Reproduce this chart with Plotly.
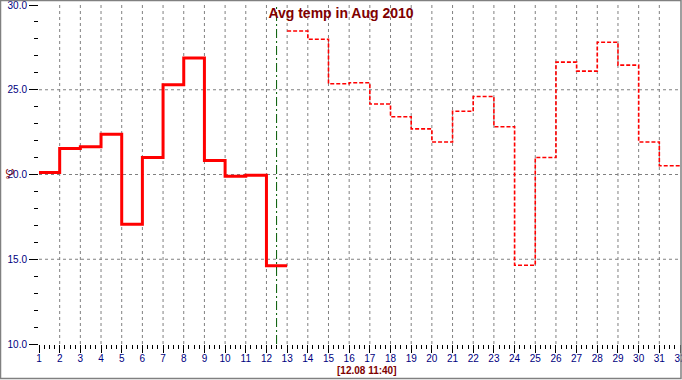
import plotly.graph_objects as go

# ---- data ----
days = list(range(1, 32))
temps = [20.12, 21.53, 21.63, 22.37, 17.06, 21.00, 25.29, 26.88, 20.82, 19.90,
         19.96, 14.61, 28.47, 27.98, 25.35, 25.41, 24.16, 23.41, 22.69, 21.92,
         23.73, 24.60, 22.82, 14.65, 21.00, 26.63, 26.10, 27.80, 26.45, 21.92,
         20.52]
n_actual = 12          # days 1..12 measured (solid), rest dashed
now_x = 12.49          # 12.08 11:40
now_label = "[12.08 11:40]"
title_text = "Avg temp in Aug 2010"
y_title = "°C"
x_ticks = list(range(1, 33))
y_ticks = [10, 15, 20, 25, 30]
x_grid = list(range(2, 32))
y_grid = [15, 20, 25]

# step data (each day spans d..d+1)
xa = days[:n_actual] + [days[n_actual - 1] + 1]
ya = temps[:n_actual] + [temps[n_actual - 1]]
xf = days[n_actual:] + [days[-1] + 1]
yf = temps[n_actual:] + [temps[-1]]

W, H = 682, 380
ML, MR, MT, MB = 39, 2, 5, 36
pw, ph = W - ML - MR, H - MT - MB

fig = go.Figure()
fig.add_trace(go.Scatter(x=xa, y=ya, mode="lines", line_shape="hv",
                         line=dict(color="#ff0000", width=3), hoverinfo="skip",
                         cliponaxis=False))
fig.add_trace(go.Scatter(x=xf, y=yf, mode="lines", line_shape="hv",
                         line=dict(color="#ff0000", width=1.6, dash="4px,2px"),
                         hoverinfo="skip", cliponaxis=False))

shapes = []
for gx in x_grid:
    shapes.append(dict(type="line", xref="x", yref="paper", x0=gx, x1=gx, y0=0, y1=1,
                       line=dict(color="#808080", width=1, dash="3px,3px"), layer="below"))
for gy in y_grid:
    shapes.append(dict(type="line", xref="paper", yref="y", x0=0, x1=1, y0=gy, y1=gy,
                       line=dict(color="#808080", width=1, dash="3px,3px"), layer="below"))
# now marker
shapes.append(dict(type="line", xref="x", yref="paper", x0=now_x, x1=now_x, y0=0, y1=1,
                   line=dict(color="#005a00", width=1, dash="9px,3px,2px,3px")))
# figure frame
shapes.append(dict(type="rect", xref="paper", yref="paper",
                   x0=(0.5 - ML) / pw, x1=(681 - ML) / pw,
                   y0=(H - MB - 378.5) / ph, y1=(H - MB - 0.5) / ph,
                   line=dict(color="#808080", width=1.5), fillcolor="rgba(0,0,0,0)"))

tickfont = dict(family="Liberation Sans, Arial, sans-serif", size=10, color="#000080")

fig.update_layout(
    width=W, height=H,
    margin=dict(l=ML, r=MR, t=MT, b=MB, autoexpand=False),
    paper_bgcolor="white", plot_bgcolor="white",
    showlegend=False,
    shapes=shapes,
    title=dict(text="<b>" + title_text + "</b>", x=0.5, xref="container", xanchor="center",
               y=1 - 13 / H, yref="container", yanchor="middle",
               font=dict(family="Liberation Sans, Arial, sans-serif", size=14, color="#800000")),
    xaxis=dict(range=[1, 32], tickvals=x_ticks, ticktext=[str(v) for v in x_ticks],
               showgrid=False, zeroline=False, showline=False, automargin=False,
               ticks="outside", ticklen=8, tickcolor="black", tickwidth=1,
               tickfont=tickfont, ticklabeloverflow="allow", ticklabelstandoff=-3,
               minor=dict(dtick=0.25, ticks="outside", ticklen=4, tickcolor="black",
                          tickwidth=1, showgrid=False)),
    yaxis=dict(range=[10, 30], tickvals=y_ticks, tickformat=".1f",
               showgrid=False, zeroline=False, showline=False, automargin=False,
               ticks="outside", ticklen=9, tickcolor="black", tickwidth=1,
               tickfont=tickfont, ticklabeloverflow="allow",
               minor=dict(dtick=1, ticks="outside", ticklen=4, tickcolor="black",
                          tickwidth=1, showgrid=False)),
    annotations=[
        dict(text="<b>" + now_label + "</b>", xref="paper", yref="paper",
             x=(367 - ML) / pw, y=(H - MB - 370.5) / ph, xanchor="center", yanchor="middle",
             showarrow=False,
             font=dict(family="Liberation Sans, Arial, sans-serif", size=10, color="#800000")),
        dict(text=y_title, xref="paper", yref="y", x=(10 - ML) / pw, y=20,
             xanchor="center", yanchor="middle", textangle=-90, showarrow=False,
             font=dict(family="Liberation Sans, Arial, sans-serif", size=10, color="#800000")),
    ],
)

fig.write_html("out.html", config={"displayModeBar": False},
               post_script="document.body.style.margin='0';document.body.style.overflow='hidden';")
